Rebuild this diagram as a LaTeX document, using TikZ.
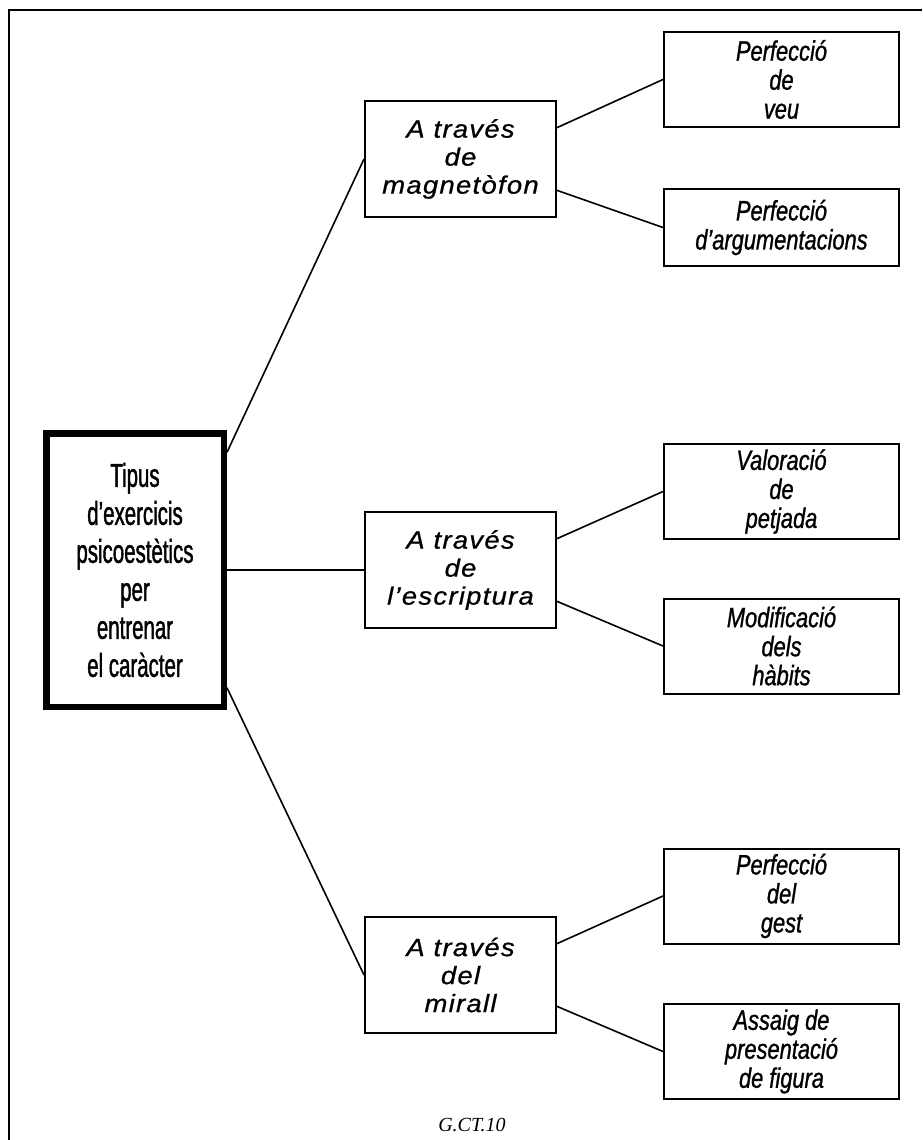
\documentclass[tikz,border=0pt]{standalone}
\usepackage{fontspec}
\setmainfont{Liberation Sans}
\newfontfamily\rootfont[FakeStretch=0.62,FakeBold=1.2]{Liberation Sans}
\newfontfamily\branchfont[FakeStretch=1.1,LetterSpace=5,FakeBold=0.8]{Liberation Sans}
\newfontfamily\leaffont[FakeStretch=0.78,FakeBold=1]{Liberation Sans}
\newfontfamily\codefont{Liberation Serif}
\usetikzlibrary{positioning}

\begin{document}
\begin{tikzpicture}[x=1pt, y=1pt,
  rootbox/.style={draw, line width=6.5pt, inner sep=0pt, minimum width=177.5pt, minimum height=273.5pt, align=center, font=\rootfont\fontsize{33}{38}\selectfont},
  branchbox/.style={draw, line width=2pt, inner sep=0pt, minimum width=191pt, minimum height=116pt, align=center, font=\branchfont\itshape\fontsize{25}{28}\selectfont},
  leafbox/.style={draw, line width=2pt, inner sep=0pt, minimum width=235pt, minimum height=95pt, align=center, font=\leaffont\itshape\fontsize{28}{29}\selectfont},
  link/.style={line width=1.6pt}]
  \useasboundingbox (0,0) rectangle (922,-1140);
  \draw[line width=2pt] (9,-1140) -- (9,-10) -- (922,-10);

  \node (root) [rootbox] at (135,-570) {Tipus\\d’exercicis\\psicoestètics\\per\\entrenar\\el caràcter};

  \node (tape) [branchbox, right of=root, node distance=325.5pt, yshift=411pt] {A través\\de\\magnetòfon};
  \node (writing) [branchbox, right of=root, node distance=325.5pt] {A través\\de\\l’escriptura};
  \node (mirror) [branchbox, right of=root, node distance=325.5pt, yshift=-405pt] {A través\\del\\mirall};

  \node (voice) [leafbox, right of=tape, node distance=321pt, yshift=79.5pt] {Perfecció\\de\\veu};
  \node (args) [leafbox, minimum height=77pt, right of=tape, node distance=321pt, yshift=-68.5pt] {Perfecció\\d’argumentacions};
  \node (trace) [leafbox, right of=writing, node distance=321pt, yshift=78.5pt] {Valoració\\de\\petjada};
  \node (habits) [leafbox, right of=writing, node distance=321pt, yshift=-76pt] {Modificació\\dels\\hàbits};
  \node (gesture) [leafbox, right of=mirror, node distance=321pt, yshift=79pt] {Perfecció\\del\\gest};
  \node (figure) [leafbox, right of=mirror, node distance=321pt, yshift=-76.5pt] {Assaig de\\presentació\\de figura};

  \node (code) at (472,-1125) [font=\codefont\itshape\fontsize{20}{24}\selectfont] {G.CT.10};

  \draw[link] (root.52) -- (tape.west);
  \draw[link] (root.east) -- (writing.west);
  \draw[link] (root.-52) -- (mirror.west);

  \draw[link] (tape.18) -- (voice.west);
  \draw[link] (tape.-18) -- (args.west);
  \draw[link] (writing.18) -- (trace.west);
  \draw[link] (writing.-18) -- (habits.west);
  \draw[link] (mirror.18) -- (gesture.west);
  \draw[link] (mirror.-18) -- (figure.west);
\end{tikzpicture}
\end{document}
